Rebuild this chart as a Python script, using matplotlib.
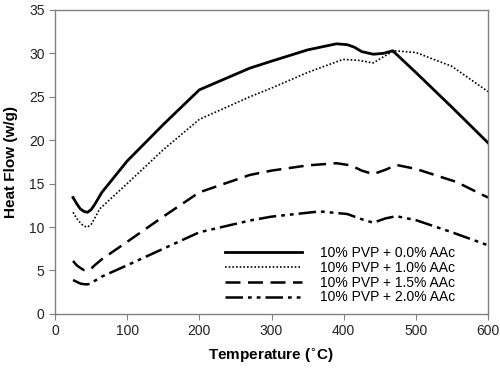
import matplotlib
matplotlib.use('Agg')
from matplotlib import pyplot as plt

plt.rcParams['font.family'] = ['Liberation Sans', 'DejaVu Sans']

# Temperatures (C) and heat flow (w/g)
t0 = [25, 30, 35, 40, 45, 50, 55, 65, 100, 150, 200, 270, 300, 350, 390, 405, 415, 425, 441, 455, 468, 500, 550, 600]
hf0 = [13.4, 12.7, 12.1, 11.8, 11.7, 12.0, 12.6, 14.0, 17.6, 21.8, 25.8, 28.3, 29.1, 30.4, 31.1, 31.0, 30.7, 30.2, 29.9, 30.0, 30.3, 27.8, 23.8, 19.7]

t1 = [25, 30, 35, 40, 45, 50, 55, 62, 100, 150, 200, 270, 300, 350, 399, 420, 441, 455, 470, 500, 550, 600]
hf1 = [11.7, 11.0, 10.5, 10.1, 10.0, 10.3, 11.0, 12.1, 15.0, 18.9, 22.4, 25.0, 26.0, 27.8, 29.3, 29.2, 28.9, 29.6, 30.3, 30.1, 28.5, 25.6]

t2 = [25, 30, 35, 40, 45, 50, 55, 65, 100, 150, 200, 270, 300, 350, 390, 410, 425, 441, 458, 473, 500, 556, 600]
hf2 = [6.1, 5.6, 5.3, 5.05, 5.0, 5.2, 5.6, 6.3, 8.3, 11.2, 14.0, 16.0, 16.5, 17.1, 17.35, 17.1, 16.5, 16.1, 16.6, 17.15, 16.7, 15.2, 13.4]

t3 = [25, 30, 35, 40, 45, 50, 55, 65, 100, 150, 200, 270, 300, 367, 405, 425, 441, 458, 473, 500, 550, 600]
hf3 = [3.9, 3.7, 3.5, 3.42, 3.4, 3.5, 3.8, 4.3, 5.6, 7.5, 9.4, 10.75, 11.2, 11.8, 11.5, 10.9, 10.5, 11.0, 11.25, 10.8, 9.4, 7.9]

labels = ['10% PVP + 0.0% AAc', '10% PVP + 1.0% AAc',
          '10% PVP + 1.5% AAc', '10% PVP + 2.0% AAc']

fig = plt.figure(figsize=(5.0, 3.68), dpi=100)
ax = fig.add_axes([0.11, 0.147, 0.866, 0.826])

ax.plot(t0, hf0, color='black', linewidth=2.0, linestyle='-', label=labels[0])
ax.plot(t1, hf1, color='black', linewidth=1.2, linestyle=(0, (1, 1.2)), label=labels[1])
ax.plot(t2, hf2, color='black', linewidth=1.8, linestyle=(0, (6, 3)), label=labels[2])
ax.plot(t3, hf3, color='black', linewidth=1.8, linestyle=(0, (7, 2, 1.5, 2, 1.5, 2)), label=labels[3])

ax.set_xlim(0, 600)
ax.set_ylim(0, 35)
ax.set_xticks(range(0, 601, 100))
ax.set_yticks(range(0, 36, 5))

for s in ax.spines.values():
    s.set_color('#808080')
    s.set_linewidth(1.0)
ax.tick_params(axis='both', direction='out', length=4, color='#808080',
               labelsize=10, labelcolor='#222222')
ax.tick_params(top=False, right=False)

ax.set_xlabel('Temperature ($^{\\circ}$C)', fontsize=11, fontweight='bold', labelpad=6)
ax.set_ylabel('Heat Flow (w/g)', fontsize=11, fontweight='bold', labelpad=8)

ax.legend(loc='lower left', bbox_to_anchor=(0.364, -0.01), frameon=False, fontsize=10,
          handlelength=5.5, handletextpad=1.3, labelspacing=0.05)

fig.savefig('out.png', dpi=100)
